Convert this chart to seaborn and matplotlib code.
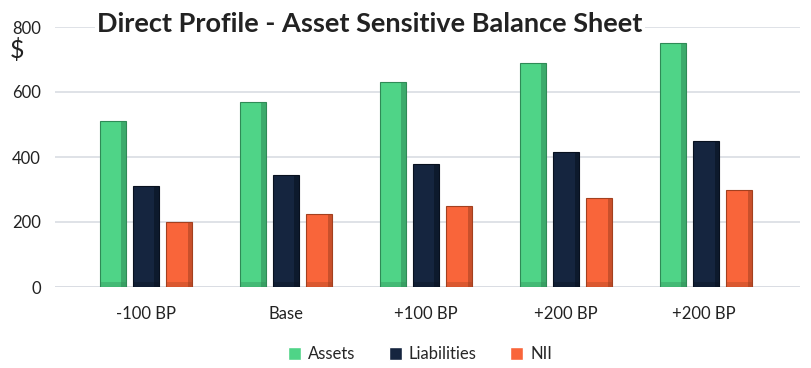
import pandas as pd
import seaborn as sns
import matplotlib.pyplot as plt
from matplotlib.patches import Rectangle

# scenario labels and values
scenarios = ['-100 BP', 'Base', '+100 BP', '+200 BP', '+200 BP ']
assets = [510, 570, 630, 690, 750]
liabilities = [310, 345, 380, 415, 450]
nii = [200, 225, 250, 275, 300]

df = pd.DataFrame({
    'Scenario': scenarios * 3,
    'Series': ['Assets'] * 5 + ['Liabilities'] * 5 + ['NII'] * 5,
    'Value': assets + liabilities + nii,
})

colors = {'Assets': '#4fd487', 'Liabilities': '#15253f', 'NII': '#f9653a'}
shades = {'Assets': '#2f8a56', 'Liabilities': '#08111f', 'NII': '#a3401f'}

sns.set_style('white')
plt.rcParams['font.family'] = ['Lato', 'DejaVu Sans']

fig = plt.figure(figsize=(8.12, 3.68), dpi=100)
ax = fig.add_axes([55 / 812, 81 / 368, 745 / 812, 260 / 368])

sns.barplot(data=df, x='Scenario', y='Value', hue='Series', palette=colors,
            saturation=1, width=0.71, gap=0.21, ax=ax, zorder=3)

# darker right edge and base to hint at the bevelled bars
for cont, name in zip(ax.containers, ['Assets', 'Liabilities', 'NII']):
    for p in cont:
        p.set_edgecolor(shades[name])
        p.set_linewidth(0.8)
        x, w, h = p.get_x(), p.get_width(), p.get_height()
        ax.add_patch(Rectangle((x + w * 0.82, 0), w * 0.18, h, color=shades[name],
                               alpha=0.55, lw=0, zorder=4))
        ax.add_patch(Rectangle((x, 0), w, 14, color=shades[name],
                               alpha=0.35, lw=0, zorder=4))

ax.set_ylim(0, 800)
ax.set_xlim(-0.65, 4.67)
ax.set_yticks([0, 200, 400, 600, 800])
ax.yaxis.grid(True, color='#d9dde3', linewidth=1.2, zorder=0)
ax.set_axisbelow(True)
for s in ax.spines.values():
    s.set_visible(False)
ax.axhline(0, color='#d9dde3', linewidth=1.2, zorder=1)
ax.set_xlabel('')
ax.set_ylabel('')
ax.tick_params(axis='both', length=0, labelsize=12, labelcolor='#222222')
ax.tick_params(axis='x', pad=14)
ax.tick_params(axis='y', pad=10)

ax.legend(loc='upper center', bbox_to_anchor=(0.49, -0.17), ncol=3, frameon=False,
          fontsize=12, handlelength=0.8, handleheight=0.8, columnspacing=2.0,
          handletextpad=0.4)

fig.text(10 / 812, 1 - 50 / 368, '$', fontsize=18, color='#222222', va='center')
fig.text(370 / 812, 1 - 24 / 368, 'Direct Profile - Asset Sensitive Balance Sheet',
         fontsize=19.5, fontweight='bold', color='#222222', ha='center', va='center',
         bbox=dict(facecolor='white', edgecolor='none', pad=2))

fig.savefig('out.png', dpi=100)
